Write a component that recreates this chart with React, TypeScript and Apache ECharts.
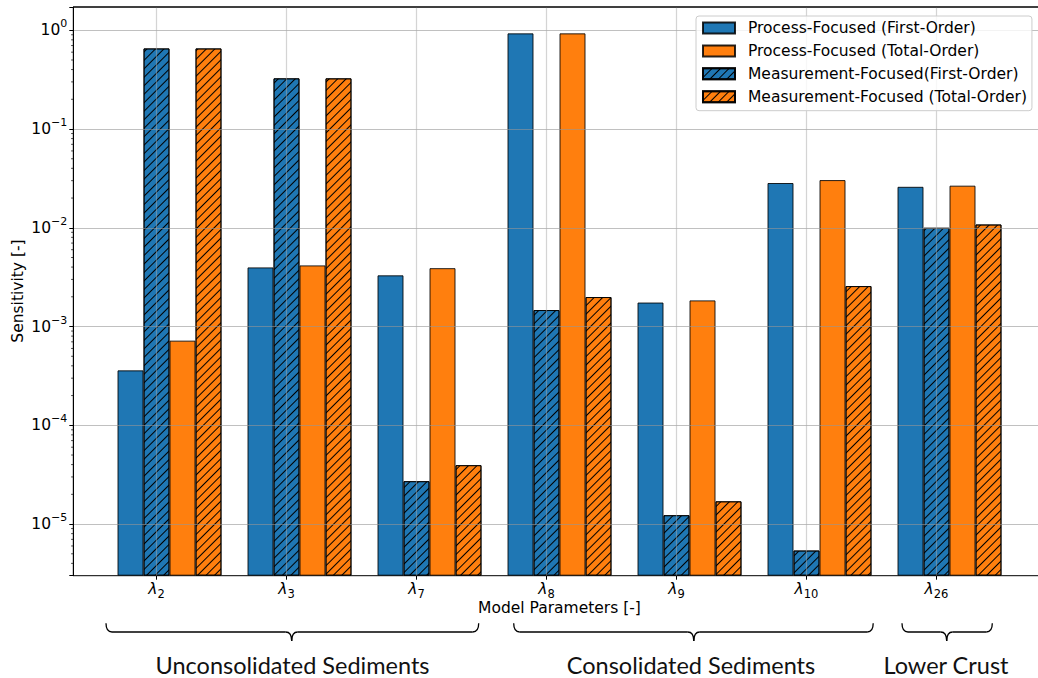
import React, { useEffect, useRef } from "react";
import * as echarts from "echarts";

// ---------- data ----------
const categories = ["2", "3", "7", "8", "9", "10", "26"];
const seriesNames = [
  "Process-Focused (First-Order)",
  "Process-Focused (Total-Order)",
  "Measurement-Focused(First-Order)",
  "Measurement-Focused (Total-Order)",
];
const processFirst = [3.6e-4, 3.97e-3, 3.3e-3, 0.93, 1.75e-3, 0.0284, 0.026];
const measurementFirst = [0.655, 0.326, 2.72e-5, 1.47e-3, 1.23e-5, 5.4e-6, 0.01];
const processTotal = [7.2e-4, 4.16e-3, 3.9e-3, 0.93, 1.84e-3, 0.0304, 0.0267];
const measurementTotal = [0.655, 0.326, 3.95e-5, 1.99e-3, 1.7e-5, 2.57e-3, 0.0108];
const yTickExponents = [-5, -4, -3, -2, -1, 0];
const groupNames = ["Unconsolidated Sediments", "Consolidated Sediments", "Lower Crust"];
const xAxisTitle = "Model Parameters [-]";
const yAxisTitle = "Sensitivity [-]";

// ---------- layout / style ----------
const BLUE = "#1f77b4";
const ORANGE = "#ff7f0e";
const FONT = "DejaVu Sans";
const X_MIN = -0.64;
const X_MAX = 6.84;
const Y_MIN = 3.0e-6;
const Y_MAX = 1.72;
const PLOT_LEFT = 73.3;
const PLOT_TOP = 7;
const PLOT_H = 568.7;
const UNIT = 130;
const BAR_W = 26;
const braceLayout = [
  { x1: 106, x2: 478.7, xc: 291.7, labelX: 292.5 },
  { x1: 513.7, x2: 873.2, xc: 693.8, labelX: 691 },
  { x1: 902, x2: 992.3, xc: 946.7, labelX: 946 },
];

const hatch = {
  symbol: "rect",
  symbolSize: 1,
  dashArrayX: [1, 0],
  dashArrayY: [1, 5],
  rotation: -Math.PI / 4,
  color: "#000",
};

function barSeries(name: string, values: number[], offset: number, color: string, hatched: boolean) {
  return {
    type: "bar",
    name,
    xAxisIndex: 0,
    yAxisIndex: 0,
    data: values.map((v, i) => [i + offset, v]),
    barWidth: BAR_W,
    barGap: "-100%",
    clip: true,
    z: 2,
    itemStyle: {
      color,
      borderColor: "rgba(0,0,0,0.85)",
      borderWidth: 1,
      ...(hatched ? { decal: hatch } : {}),
    },
  };
}

function braceElements(b: { x1: number; x2: number; xc: number }) {
  const y0 = 623.3, y1 = 632, y2 = 641, r = 6;
  const st = { stroke: "#000", fill: null, lineWidth: 1.3 };
  return [
    { type: "bezierCurve", shape: { x1: b.x1, y1: y0, cpx1: b.x1, cpy1: y1, x2: b.x1 + r, y2: y1 }, style: st },
    { type: "line", shape: { x1: b.x1 + r, y1: y1, x2: b.xc - r, y2: y1 }, style: st },
    { type: "bezierCurve", shape: { x1: b.xc - r, y1: y1, cpx1: b.xc, cpy1: y1, x2: b.xc, y2: y2 }, style: st },
    { type: "bezierCurve", shape: { x1: b.xc + r, y1: y1, cpx1: b.xc, cpy1: y1, x2: b.xc, y2: y2 }, style: st },
    { type: "line", shape: { x1: b.xc + r, y1: y1, x2: b.x2 - r, y2: y1 }, style: st },
    { type: "bezierCurve", shape: { x1: b.x2 - r, y1: y1, cpx1: b.x2, cpy1: y1, x2: b.x2, y2: y0 }, style: st },
  ];
}

export default function App() {
  const ref = useRef<HTMLDivElement>(null);
  useEffect(() => {
    if (!ref.current) return;
    const chart = echarts.init(ref.current, null, { renderer: "svg" });

    const minorTicks: number[][] = [];
    for (let k = -7; k <= 0; k++) {
      for (let m = 2; m <= 9; m++) {
        const v = m * Math.pow(10, k);
        if (v > Y_MIN && v < Y_MAX) minorTicks.push([X_MIN, v]);
      }
    }

    const plotW = (X_MAX - X_MIN) * UNIT;
    const catLeft = PLOT_LEFT + (0 - X_MIN) * UNIT;
    const catW = (categories.length - 1) * UNIT;

    const graphics: any[] = [];
    braceLayout.forEach((b, i) => {
      graphics.push(...braceElements(b));
      graphics.push({
        type: "text",
        x: b.labelX,
        y: 665,
        style: {
          text: groupNames[i],
          fontFamily: "Lato",
          fontSize: 23.5,
          fill: "#111",
          textAlign: "center",
          textVerticalAlign: "middle",
        },
      });
    });
    graphics.push({
      type: "text",
      x: PLOT_LEFT + plotW / 2,
      y: 608,
      style: { text: xAxisTitle, fontFamily: FONT, fontSize: 15.5, fill: "#000", textAlign: "center", textVerticalAlign: "middle" },
    });
    graphics.push({
      type: "text",
      x: 18,
      y: 291,
      rotation: Math.PI / 2,
      style: { text: yAxisTitle, fontFamily: FONT, fontSize: 15.5, fill: "#000", textAlign: "center", textVerticalAlign: "middle" },
    });
    // top spine of the plot frame (drawn above the grid lines)
    graphics.push({
      type: "line",
      z: 20,
      shape: { x1: PLOT_LEFT, y1: PLOT_TOP, x2: PLOT_LEFT + plotW, y2: PLOT_TOP },
      style: { stroke: "#000", lineWidth: 1.2 },
    });

    const option: any = {
      animation: false,
      backgroundColor: "#fff",
      textStyle: { fontFamily: FONT },
      grid: [
        {
          left: PLOT_LEFT,
          top: PLOT_TOP,
          width: plotW,
          height: PLOT_H,
          show: true,
          borderColor: "#000",
          borderWidth: 1,
          backgroundColor: "transparent",
          containLabel: false,
          outerBoundsMode: "none",
        },
        {
          left: catLeft,
          top: PLOT_TOP,
          width: catW,
          height: PLOT_H,
          containLabel: false,
          outerBoundsMode: "none",
        },
      ],
      xAxis: [
        { type: "value", gridIndex: 0, min: X_MIN, max: X_MAX, show: false, axisLine: { show: false, onZero: false } },
        {
          type: "category",
          gridIndex: 1,
          data: categories,
          boundaryGap: false,
          z: 5,
          axisLine: { show: false, onZero: false },
          axisTick: { show: true, length: 4, inside: false, lineStyle: { color: "#000", width: 1 } },
          axisLabel: {
            interval: 0,
            margin: 2,
            formatter: (v: string) => `{l|λ}{s|${v}}`,
            rich: {
              l: { fontFamily: FONT, fontStyle: "italic", fontSize: 15.5, color: "#000", lineHeight: 22, verticalAlign: "middle" },
              s: { fontFamily: FONT, fontSize: 11.5, color: "#000", lineHeight: 16, verticalAlign: "bottom" },
            },
          },
          splitLine: { show: true, lineStyle: { color: "rgba(170,170,170,0.5)", width: 1.2 } },
        },
      ],
      yAxis: [
        {
          type: "log",
          logBase: 10,
          gridIndex: 0,
          min: Y_MIN,
          max: Y_MAX,
          startValue: Y_MIN,
          z: 5,
          axisLine: { show: true, onZero: false, lineStyle: { color: "#000", width: 1 } },
          axisTick: { show: true, length: 4, lineStyle: { color: "#000", width: 1 } },
          axisLabel: {
            margin: 6,
            formatter: (v: number) => {
              const e = Math.log10(v);
              const hit = yTickExponents.find((x) => Math.abs(x - e) < 1e-6);
              if (hit === undefined) return "";
              const s = hit < 0 ? "\u2212" + Math.abs(hit) : String(hit);
              return `{b|10}{e|${s}}`;
            },
            rich: {
              b: { fontFamily: FONT, fontSize: 15.5, color: "#000", lineHeight: 24, verticalAlign: "middle" },
              e: { fontFamily: FONT, fontSize: 11, color: "#000", lineHeight: 16, verticalAlign: "top" },
            },
          },
          splitLine: {
            show: true,
            showMinLine: false,
            showMaxLine: false,
            lineStyle: { color: "rgba(150,150,150,0.6)", width: 1.2 },
          },
        },
        { type: "value", gridIndex: 1, show: false, axisLine: { show: false, onZero: false } },
      ],
      legend: {
        data: seriesNames,
        orient: "vertical",
        left: 696,
        top: 16,
        itemWidth: 32,
        itemHeight: 11,
        itemGap: 4.9,
        icon: "rect",
        padding: [3, 5, 5, 6],
        backgroundColor: "rgba(255,255,255,0.8)",
        borderColor: "#cccccc",
        borderWidth: 1,
        borderRadius: 3,
        z: 10,
        textStyle: { fontFamily: FONT, fontSize: 15.5, color: "#000", lineHeight: 18, padding: [0, 0, 0, 8] },
      },
      graphic: graphics,
      series: [
        barSeries(seriesNames[0], processFirst, -0.2, BLUE, false),
        barSeries(seriesNames[2], measurementFirst, 0, BLUE, true),
        barSeries(seriesNames[1], processTotal, 0.2, ORANGE, false),
        barSeries(seriesNames[3], measurementTotal, 0.4, ORANGE, true),
        {
          type: "custom",
          name: "minorTicks",
          xAxisIndex: 0,
          yAxisIndex: 0,
          silent: true,
          clip: false,
          z: 6,
          data: minorTicks,
          renderItem: (params: any, api: any) => {
            const p = api.coord([api.value(0), api.value(1)]);
            return {
              type: "line",
              shape: { x1: p[0] - 2.2, y1: p[1], x2: p[0], y2: p[1] },
              style: { stroke: "#000", lineWidth: 0.7 },
            };
          },
        },
      ],
    };
    chart.setOption(option);
    return () => chart.dispose();
  }, []);

  return (
    <div
      ref={ref}
      style={{ position: "fixed", left: 0, top: 0, width: 1038, height: 678, background: "#fff" }}
    />
  );
}
